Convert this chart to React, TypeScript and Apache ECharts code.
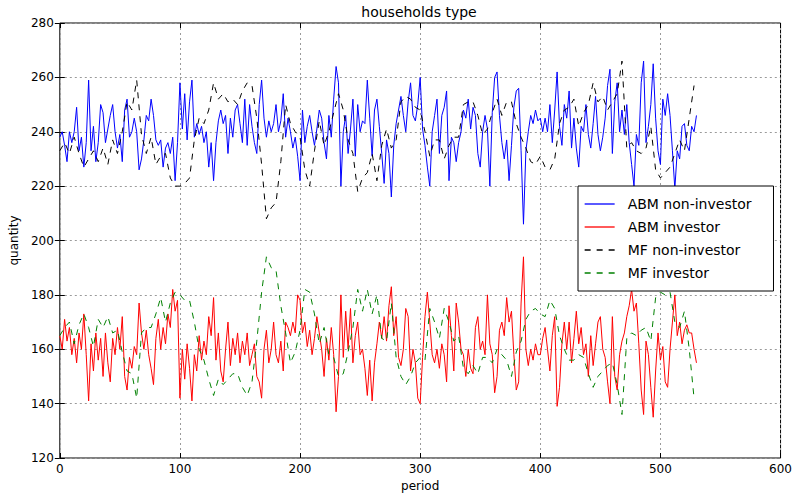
import React, { useEffect, useRef } from "react";
import * as echarts from "echarts";

// period step between consecutive values
const ABM_STEP = 2;
const MF_STEP = 4;

const seriesNames = ["ABM non-investor", "ABM investor", "MF non-investor", "MF investor"];
const xTicks = { min: 0, max: 600, interval: 100 };
const yTicks = { min: 120, max: 280, interval: 20 };

const abmNonInvestor = [
  238, 240, 235, 229, 240, 236, 240, 249, 233, 238,
  227, 236, 259, 233, 242, 229, 236, 250, 247, 236,
  241, 246, 250, 240, 234, 239, 229, 248, 252, 238,
  240, 245, 240, 226, 230, 237, 246, 244, 252, 246,
  237, 235, 237, 227, 234, 236, 232, 238, 222, 236,
  258, 241, 254, 237, 251, 259, 238, 243, 239, 242,
  236, 240, 227, 236, 222, 236, 244, 248, 243, 246,
  232, 245, 238, 248, 250, 243, 236, 252, 235, 250,
  242, 236, 232, 250, 259, 245, 238, 244, 240, 243,
  250, 240, 244, 254, 238, 245, 240, 234, 238, 231,
  222, 248, 236, 242, 246, 240, 235, 241, 248, 245,
  236, 230, 246, 238, 252, 264, 258, 220, 240, 246,
  232, 241, 252, 231, 250, 240, 244, 243, 259, 245,
  231, 248, 252, 242, 232, 221, 237, 232, 216, 235,
  243, 248, 253, 246, 240, 251, 258, 246, 244, 250,
  260, 241, 235, 227, 220, 240, 246, 252, 232, 246,
  249, 255, 222, 238, 236, 229, 236, 240, 248, 245,
  252, 241, 249, 246, 232, 227, 240, 246, 241, 220,
  247, 260, 262, 246, 236, 230, 237, 222, 235, 249,
  255, 256, 233, 206, 233, 240, 246, 243, 248, 244,
  245, 240, 245, 240, 250, 236, 248, 262, 242, 235,
  250, 245, 255, 234, 245, 234, 227, 242, 240, 250,
  239, 234, 243, 253, 239, 233, 238, 245, 257, 263,
  232, 251, 258, 240, 248, 239, 250, 236, 228, 220,
  239, 235, 258, 266, 236, 242, 250, 265, 245, 233,
  228, 252, 246, 254, 246, 233, 219, 233, 230, 242, 243, 235, 233, 242, 240, 246,
];

const abmInvestor = [
  165, 160, 171, 163, 168, 158, 164, 155, 166, 160,
  173, 158, 141, 162, 152, 166, 156, 164, 150, 166,
  155, 148, 164, 158, 168, 160, 172, 150, 145, 157,
  153, 161, 158, 177, 166, 160, 167, 158, 153, 147,
  164, 171, 160, 168, 162, 173, 168, 182, 174, 178,
  142, 160, 149, 162, 153, 141, 158, 152, 165, 156,
  163, 158, 172, 165, 179, 156, 166, 152, 148, 160,
  170, 154, 164, 158, 166, 155, 163, 158, 166, 154,
  158, 162, 150, 148, 142, 160, 167, 155, 160, 170,
  158, 155, 163, 152, 170, 168, 165, 170, 166, 180,
  178, 166, 170, 161, 167, 158, 164, 172, 166, 160,
  150, 164, 156, 168, 158, 137, 150, 180, 157, 174,
  160, 175, 155, 165, 170, 158, 160, 153, 143, 156,
  141, 155, 162, 170, 164, 172, 163, 176, 183, 165,
  172, 157, 154, 160, 175, 172, 152, 160, 155, 142,
  140, 157, 172, 181, 170, 158, 155, 160, 153, 162,
  158, 148, 176, 165, 152, 177, 170, 160, 158, 150,
  160, 153, 151, 168, 172, 160, 163, 158, 180, 162,
  158, 144, 150, 167, 170, 165, 179, 170, 174, 158,
  145, 148, 177, 194, 160, 154, 160, 156, 162, 158,
  158, 164, 168, 160, 152, 165, 172, 139, 146, 162,
  170, 160, 170, 155, 164, 174, 162, 168, 158, 162,
  150, 165, 154, 162, 170, 172, 160, 157, 148, 140,
  172, 150, 145, 158, 163, 166, 172, 176, 182, 174,
  177, 162, 145, 136, 163, 158, 146, 135, 152, 166,
  156, 161, 148, 146, 160, 170, 180, 165, 170, 162, 167, 169, 166, 166, 160, 155,
];

const mfNonInvestor = [
  233, 236, 232, 238, 232, 227, 230, 233, 229, 234, 228, 237, 232, 240, 251, 248, 259, 239, 232, 238, 228, 231, 232, 223, 220,
  220, 221, 223, 237, 245, 243, 248, 258, 252, 254, 251, 252, 250, 255, 258, 257, 245, 228, 208, 212, 214, 229, 250, 243, 240,
  238, 226, 220, 233, 244, 235, 240, 247, 254, 248, 237, 232, 218, 223, 225, 232, 222, 235, 241, 234, 237, 251, 253, 252, 249,
  248, 240, 231, 237, 237, 230, 235, 238, 238, 250, 251, 251, 246, 239, 241, 247, 252, 246, 251, 251, 243, 238, 234, 229, 228,
  231, 227, 226, 230, 243, 248, 249, 252, 242, 247, 250, 258, 251, 253, 248, 251, 254, 266, 234, 236, 233, 232, 234, 242, 226,
  223, 225, 227, 232, 237, 233, 245, 257,
];

const mfInvestor = [
  165, 168, 170, 162, 169, 173, 168, 161, 171, 168, 172, 166, 167, 159, 152, 151, 142, 166, 168, 168, 173, 179, 170, 177, 181,
  180, 178, 178, 170, 160, 156, 149, 143, 149, 147, 149, 151, 151, 146, 143, 148, 163, 181, 194, 190, 189, 176, 166, 155, 159,
  167, 182, 181, 173, 162, 168, 158, 157, 150, 151, 159, 168, 182, 174, 182, 173, 180, 164, 163, 177, 157, 150, 147, 150, 155,
  157, 156, 175, 170, 164, 175, 170, 163, 165, 153, 151, 154, 151, 157, 157, 155, 160, 158, 156, 150, 159, 163, 171, 174, 175,
  173, 172, 178, 175, 165, 160, 156, 156, 158, 157, 151, 146, 150, 152, 154, 155, 147, 136, 164, 166, 165, 167, 168, 163, 179,
  181, 180, 181, 170, 168, 174, 160, 142,
];

const FONT = "DejaVu Sans";

export default function App() {
  const ref = useRef<HTMLDivElement>(null);
  useEffect(() => {
    const chart = echarts.init(ref.current!, null, { renderer: "svg" });
    const toPairs = (arr: number[], step: number) => arr.map((v, i) => [i * step, v]);
    const gridLine = { show: true, lineStyle: { color: "#9a9a9a", type: [2, 3], width: 1 } };
    const label = { fontFamily: FONT, fontSize: 12, color: "#000" };
    const tick = { show: true, inside: true, length: 5, lineStyle: { color: "#000", width: 1 } };
    const hiddenAxis = { axisLabel: { show: false }, axisLine: { show: false }, splitLine: { show: false }, axisTick: tick };
    const makeSeries = (name: string, data: number[][], color: string, dashed: boolean) => ({
      name,
      type: "line",
      data,
      symbol: "none",
      showSymbol: false,
      itemStyle: { color },
      lineStyle: { color, width: 1, type: dashed ? [6, 6] : "solid" },
      emphasis: { disabled: true },
    });
    chart.setOption({
      animation: false,
      backgroundColor: "#fff",
      graphic: [
        {
          type: "text",
          x: 419,
          y: 5,
          style: { text: "households type", fontFamily: FONT, fontSize: 14, fill: "#000", align: "center", verticalAlign: "top" },
        },
      ],
      grid: { left: 57, right: 14, top: 23, bottom: 40, show: true, borderColor: "#000", borderWidth: 1 },
      legend: {
        orient: "vertical",
        left: 578,
        top: 186,
        padding: [11, 22, 11, 6],
        itemGap: 9,
        itemWidth: 30,
        itemHeight: 14,
        backgroundColor: "#fff",
        borderColor: "#000",
        borderWidth: 1,
        borderRadius: 0,
        itemStyle: { opacity: 0 },
        lineStyle: { width: 1.3 },
        textStyle: { fontFamily: FONT, fontSize: 14, color: "#000", padding: [0, 0, 0, 8] },
        data: seriesNames,
      },
      xAxis: [
        {
          type: "value",
          ...xTicks,
          name: "period",
          nameLocation: "middle",
          nameGap: 22,
          nameTextStyle: { fontFamily: FONT, fontSize: 12, color: "#000" },
          axisLine: { show: false },
          axisTick: tick,
          axisLabel: { ...label, margin: 5 },
          splitLine: gridLine,
        },
        { type: "value", position: "top", ...xTicks, ...hiddenAxis },
      ],
      yAxis: [
        {
          type: "value",
          ...yTicks,
          name: "quantity",
          nameLocation: "middle",
          nameGap: 38,
          nameRotate: 90,
          nameTextStyle: { fontFamily: FONT, fontSize: 12, color: "#000" },
          axisLine: { show: false },
          axisTick: tick,
          axisLabel: { ...label, margin: 6 },
          splitLine: gridLine,
        },
        { type: "value", position: "right", ...yTicks, ...hiddenAxis },
      ],
      series: [
        makeSeries(seriesNames[0], toPairs(abmNonInvestor, ABM_STEP), "#0000ff", false),
        makeSeries(seriesNames[1], toPairs(abmInvestor, ABM_STEP), "#ff0000", false),
        makeSeries(seriesNames[2], toPairs(mfNonInvestor, MF_STEP), "#000000", true),
        makeSeries(seriesNames[3], toPairs(mfInvestor, MF_STEP), "#008000", true),
      ],
    });
    return () => chart.dispose();
  }, []);
  return <div ref={ref} style={{ position: "fixed", left: 0, top: 0, width: 795, height: 498 }} />;
}
